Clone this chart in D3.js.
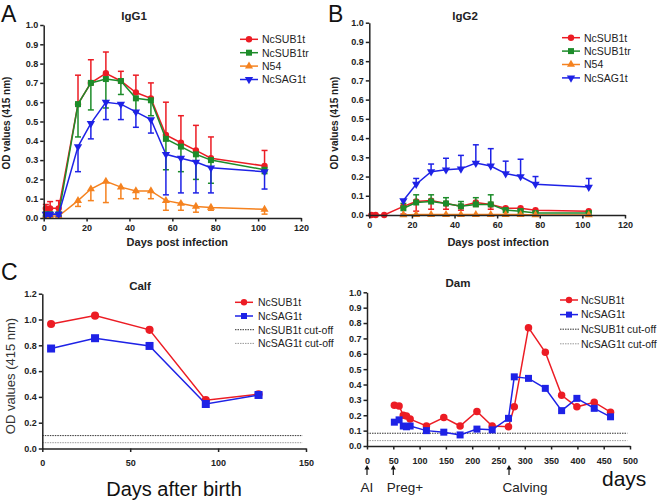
<!DOCTYPE html>
<html><head><meta charset="utf-8">
<script src="https://cdn.jsdelivr.net/npm/d3@7"></script>
<style>
body{margin:0;background:#fff;}
svg{display:block;font-family:"Liberation Sans",Arial,sans-serif;}
</style></head>
<body><svg id="c" width="660" height="500"></svg>
<script>
// ---------------- DATA ----------------
const seriesNamesAB = ["NcSUB1t","NcSUB1tr","N54","NcSAG1t"];
const daysAB = [1,3,7,16,22,29,36,43,50,57,64,71,78,103];

// IgG1 (panel A)
const igg1SUB1t    = [0.05,0.05,0.05,0.59,0.70,0.75,0.71,0.65,0.62,0.43,0.39,0.35,0.31,0.27];
const igg1SUB1tErr = [0.02,0.035,0.04,0.15,0.12,0.11,0.05,0.09,0.08,0.17,0.14,0.13,0.11,0.08];
const igg1SUB1tr    = [0.02,0.02,0.02,0.59,0.70,0.72,0.71,0.62,0.61,0.41,0.37,0.33,0.30,0.25];
const igg1SUB1trErr = [0.01,0.01,0.01,0.17,0.14,0.15,0.07,0.07,0.08,0.16,0.13,0.13,0.12,0.02];
const igg1N54    = [0.01,0.01,0.01,0.09,0.15,0.19,0.16,0.14,0.14,0.09,0.075,0.06,0.055,0.045];
const igg1N54Err = [0.0,0.0,0.0,0.03,0.06,0.11,0.06,0.04,0.04,0.05,0.035,0.03,0.015,0.025];
const igg1SAG1t    = [0.02,0.02,0.02,0.37,0.49,0.60,0.59,0.55,0.51,0.33,0.31,0.29,0.26,0.24];
const igg1SAG1tErr = [0.01,0.01,0.01,0.13,0.08,0.09,0.08,0.08,0.07,0.21,0.18,0.16,0.13,0.09];

// IgG2 (panel B)  (null = no point shown)
const igg2SUB1t    = [0,0,0,0.045,0.07,0.075,0.06,0.045,0.065,0.055,0.035,0.035,0.025,0.02];
const igg2SUB1tErr = [0,0,0,0.04,0.05,0.045,0.03,0.02,0.02,0.025,0.01,0.01,0.005,0.005];
const igg2SUB1tr    = [null,null,null,0.035,0.065,0.07,0.06,0.045,0.055,0.055,0.025,0.02,0.01,0.01];
const igg2SUB1trErr = [0,0,0,0.025,0.04,0.035,0.03,0.025,0.035,0.05,0.01,0.01,0.005,0.005];
const igg2N54    = [null,null,null,0,0.002,0.002,0.002,0.002,0.002,0.002,0.002,0.002,0,0];
const igg2N54Err = [0,0,0,0,0,0,0,0,0,0,0,0,0,0];
const igg2SAG1t    = [null,null,null,0.075,0.16,0.225,0.235,0.24,0.27,0.255,0.215,0.20,0.16,0.145];
const igg2SAG1tErr = [0,0,0,0,0.03,0.04,0.06,0.07,0.095,0.09,0.065,0.09,0.04,0.045];

// Calf (panel C left)
const calfDays   = [5,30,61,93,123];
const calfSUB1t  = [0.965,1.03,0.92,0.375,0.42];
const calfSAG1t  = [0.775,0.855,0.795,0.345,0.415];
const calfCutSUB1t = 0.10;
const calfCutSAG1t = 0.045;

// Dam (panel C right)
const damDays  = [52,61,69,75,82,113,146,177,209,238,269,280,307,339,370,399,432,463];
const damSUB1t = [0.265,0.26,0.20,0.195,0.175,0.13,0.185,0.13,0.225,0.13,0.125,0.255,0.77,0.61,0.33,0.255,0.285,0.22];
const damSAG1t = [0.155,0.17,0.13,0.125,0.13,0.10,0.09,0.072,0.11,0.105,0.18,0.45,0.44,0.375,0.23,0.31,0.245,0.19];
const damCutSUB1t = 0.083;
const damCutSAG1t = 0.035;
const damEvents = [{day:0,label:"AI"},{day:50,label:"Preg+"},{day:270,label:"Calving"}];

const ticksAB_x = [0,20,40,60,80,100,120];
const ticks01_y = [0,0.1,0.2,0.3,0.4,0.5,0.6,0.7,0.8,0.9,1.0];
const ticksCalf_x = [0,50,100,150];
const ticksCalf_y = [0,0.2,0.4,0.6,0.8,1.0,1.2];
const ticksDam_x = [0,50,100,150,200,250,300,350,400,450,500];

// ---------------- STYLE ----------------
const COL = {red:"#ec1c24", green:"#1d8c2a", orange:"#f5821f", blue:"#1e22e6"};
const svg = d3.select("#c");
svg.append("rect").attr("width",660).attr("height",500).attr("fill","#fff");

function makeAxes(g, x, y, xt, yt, xfmt, yfmt, xpad) {
  const ax = g.append("g").attr("transform",`translate(0,${y.range()[0]})`)
    .call(d3.axisBottom(x).tickValues(xt).tickSize(3.5).tickSizeOuter(0).tickPadding(xpad).tickFormat(xfmt));
  const ay = g.append("g").attr("transform",`translate(${x.range()[0]},0)`)
    .call(d3.axisLeft(y).tickValues(yt).tickSize(3.5).tickSizeOuter(0).tickPadding(2).tickFormat(yfmt));
  [ax,ay].forEach(a=>{
    a.select(".domain").attr("stroke","#222").attr("stroke-width",1.5);
    a.selectAll(".tick line").attr("stroke","#222").attr("stroke-width",1.5);
    a.selectAll(".tick text").attr("fill","#222").attr("font-size",9).attr("font-weight","bold")
      .attr("font-family","'Liberation Sans',Arial,sans-serif");
  });
}

function sym(type, size) {
  return d3.symbol().type(type).size(size)();
}

function drawSeries(g, x, y, xs, ys, color, shape, size, err, dir, lw) {
  const pts = xs.map((d,i)=>({x:d, y:ys[i], e: err? err[i]:0}));
  const valid = pts.filter(p=>p.y!==null);
  g.append("path").datum(valid).attr("fill","none").attr("stroke",color).attr("stroke-width",lw||1.5)
    .attr("d", d3.line().x(d=>x(d.x)).y(d=>y(d.y)));
  if (err) {
    const eb = g.append("g").attr("stroke",color).attr("stroke-width",1.5);
    valid.forEach(p=>{
      if (!p.e) return;
      const yEnd = dir==="up" ? p.y + p.e : Math.max(0, p.y - p.e);
      eb.append("line").attr("x1",x(p.x)).attr("x2",x(p.x)).attr("y1",y(p.y)).attr("y2",y(yEnd));
      eb.append("line").attr("x1",x(p.x)-3).attr("x2",x(p.x)+3).attr("y1",y(yEnd)).attr("y2",y(yEnd));
    });
  }
  const rot = shape==="tridown" ? 180 : 0;
  const t = shape==="circle"?d3.symbolCircle: shape==="square"?d3.symbolSquare: d3.symbolTriangle;
  g.append("g").selectAll("path").data(valid).join("path")
    .attr("d", sym(t,size)).attr("fill",color)
    .attr("transform",d=>`translate(${x(d.x)},${y(d.y)}) rotate(${rot})`);
}

function legend(g, x0, y0, dy, items, textX) {
  items.forEach((it,i)=>{
    const yy = y0 + i*dy;
    if (it.dash) {
      g.append("line").attr("x1",x0).attr("x2",x0+19).attr("y1",yy).attr("y2",yy)
        .attr("stroke",it.color).attr("stroke-width",1).attr("stroke-dasharray","1.5,1");
    } else {
      g.append("line").attr("x1",x0).attr("x2",x0+18).attr("y1",yy).attr("y2",yy)
        .attr("stroke",it.color).attr("stroke-width",1.5);
      const t = it.shape==="circle"?d3.symbolCircle: it.shape==="square"?d3.symbolSquare: d3.symbolTriangle;
      g.append("path").attr("d", sym(t,it.size)).attr("fill",it.color)
        .attr("transform",`translate(${x0+9},${yy}) rotate(${it.shape==="tridown"?180:0})`);
    }
    g.append("text").attr("x",textX).attr("y",yy+3.8).attr("font-size",10.5).attr("fill","#222").text(it.name);
  });
}

const fmt1 = d3.format(".1f");
const fmt0 = d3.format("d");

// ---------------- PANEL A & B ----------------
function panelAB(cfg) {
  const g = svg.append("g");
  const x = d3.scaleLinear().domain([0,120]).range(cfg.xr);
  const y = d3.scaleLinear().domain([0,1]).range(cfg.yr);
  const cols = [COL.red, COL.green, COL.orange, COL.blue];
  const shapes = ["circle","square","triangle","tridown"];
  const sizes = [32,36,28,30];
  cfg.series.forEach((s,i)=>{
    drawSeries(g, x, y, daysAB, s.v, cols[i], shapes[i], sizes[i], s.e, s.dir);
  });
  makeAxes(g, x, y, ticksAB_x, ticks01_y, fmt0, fmt1, 3);
  g.append("text").attr("x",cfg.titleX).attr("y",20).attr("text-anchor","middle")
    .attr("font-size",11.5).attr("font-weight","bold").attr("fill","#222").text(cfg.title);
  g.append("text").attr("x",(cfg.xr[0]+cfg.xr[1])/2 + cfg.xlabDx).attr("y",245.5).attr("text-anchor","middle")
    .attr("font-size",11).attr("font-weight","bold").attr("fill","#222").text("Days post infection");
  g.append("text").attr("transform",`translate(${cfg.ylabX},123) rotate(-90)`).attr("text-anchor","middle")
    .attr("font-size",10).attr("font-weight","bold").attr("fill","#222").text("OD values (415 nm)");
  legend(g, cfg.legX, cfg.legY, 13.4, seriesNamesAB.map((n,i)=>({name:n,color:cols[i],shape:shapes[i],size:sizes[i]})), cfg.legX+22);
  g.append("text").attr("x",cfg.letterX).attr("y",22).attr("font-size",23).attr("fill","#111").text(cfg.letter);
}

panelAB({
  xr:[43.7,301], yr:[218,25], title:"IgG1", titleX:134, xlabDx:5, ylabX:10, legX:240, legY:39.3, letterX:1, letter:"A",
  series:[
    {v:igg1SUB1t, e:igg1SUB1tErr, dir:"up"},
    {v:igg1SUB1tr, e:igg1SUB1trErr, dir:"down"},
    {v:igg1N54, e:igg1N54Err, dir:"down"},
    {v:igg1SAG1t, e:igg1SAG1tErr, dir:"down"}
  ]
});
panelAB({
  xr:[369.3,625], yr:[215,22.7], title:"IgG2", titleX:465, xlabDx:1, ylabX:338, legX:562, legY:37.7, letterX:328, letter:"B",
  series:[
    {v:igg2SUB1t, e:igg2SUB1tErr, dir:"down"},
    {v:igg2SUB1tr, e:igg2SUB1trErr, dir:"up"},
    {v:igg2N54, e:igg2N54Err, dir:"up"},
    {v:igg2SAG1t, e:igg2SAG1tErr, dir:"up"}
  ]
});

// ---------------- PANEL C: Calf ----------------
(function(){
  const g = svg.append("g");
  const x = d3.scaleLinear().domain([0,150]).range([42.3,306]);
  const y = d3.scaleLinear().domain([0,1.2]).range([448.5,293.7]);
  g.append("line").attr("x1",x(0)).attr("x2",x(148)).attr("y1",y(calfCutSUB1t)).attr("y2",y(calfCutSUB1t))
    .attr("stroke","#333").attr("stroke-width",1).attr("stroke-dasharray","1.5,1");
  g.append("line").attr("x1",x(0)).attr("x2",x(148)).attr("y1",y(calfCutSAG1t)).attr("y2",y(calfCutSAG1t))
    .attr("stroke","#999").attr("stroke-width",1).attr("stroke-dasharray","1.5,1");
  drawSeries(g, x, y, calfDays, calfSUB1t, COL.red, "circle", 52, null, null);
  drawSeries(g, x, y, calfDays, calfSAG1t, COL.blue, "square", 64, null, null);
  makeAxes(g, x, y, ticksCalf_x, ticksCalf_y, fmt0, fmt1, 8);
  g.append("text").attr("x",140).attr("y",290).attr("text-anchor","middle")
    .attr("font-size",11.5).attr("font-weight","bold").attr("fill","#222").text("Calf");
  g.append("text").attr("transform","translate(15,376) rotate(-90)").attr("text-anchor","middle")
    .attr("font-size",13).attr("fill","#333").text("OD values (415 nm)");
  g.append("text").attr("x",174).attr("y",496).attr("text-anchor","middle")
    .attr("font-size",20).attr("fill","#111").text("Days after birth");
  legend(g, 235, 302.3, 13.7, [
    {name:"NcSUB1t",color:COL.red,shape:"circle",size:32},
    {name:"NcSAG1t",color:COL.blue,shape:"square",size:36},
    {name:"NcSUB1t cut-off",color:"#333",dash:true},
    {name:"NcSAG1t cut-off",color:"#999",dash:true}
  ], 258);
  g.append("text").attr("x",1).attr("y",280).attr("font-size",23).attr("fill","#111").text("C");
})();

// ---------------- PANEL C: Dam ----------------
(function(){
  const g = svg.append("g");
  const x = d3.scaleLinear().domain([0,500]).range([367,630]);
  const y = d3.scaleLinear().domain([0,1]).range([446,292.3]);
  g.append("line").attr("x1",x(0)).attr("x2",x(495)).attr("y1",y(damCutSUB1t)).attr("y2",y(damCutSUB1t))
    .attr("stroke","#333").attr("stroke-width",1).attr("stroke-dasharray","1.5,1");
  g.append("line").attr("x1",x(0)).attr("x2",x(495)).attr("y1",y(damCutSAG1t)).attr("y2",y(damCutSAG1t))
    .attr("stroke","#999").attr("stroke-width",1).attr("stroke-dasharray","1.5,1");
  drawSeries(g, x, y, damDays, damSUB1t, COL.red, "circle", 44, null, null);
  drawSeries(g, x, y, damDays, damSAG1t, COL.blue, "square", 49, null, null);
  makeAxes(g, x, y, ticksDam_x, ticks01_y, fmt0, fmt1, 8);
  g.append("text").attr("x",458).attr("y",287).attr("text-anchor","middle")
    .attr("font-size",11.5).attr("font-weight","bold").attr("fill","#222").text("Dam");
  legend(g, 560, 300, 14.6, [
    {name:"NcSUB1t",color:COL.red,shape:"circle",size:32},
    {name:"NcSAG1t",color:COL.blue,shape:"square",size:36},
    {name:"NcSUB1t cut-off",color:"#333",dash:true},
    {name:"NcSAG1t cut-off",color:"#999",dash:true}
  ], 581);
  // event arrows
  damEvents.forEach((ev,i)=>{
    const xx = x(ev.day);
    g.append("line").attr("x1",xx).attr("x2",xx).attr("y1",468).attr("y2",475).attr("stroke","#111").attr("stroke-width",1.2);
    g.append("path").attr("d",`M${xx-2.5},${469.5} L${xx},${465} L${xx+2.5},${469.5} Z`).attr("fill","#111");
    g.append("text").attr("x", i===0 ? xx : xx-6.5).attr("y",492)
      .attr("text-anchor", i===0 ? "middle":"start").attr("font-size",13.5).attr("fill","#222").text(ev.label);
  });
  g.append("text").attr("x",602).attr("y",486).attr("font-size",21).attr("fill","#111").text("days");
})();
</script></body></html>
